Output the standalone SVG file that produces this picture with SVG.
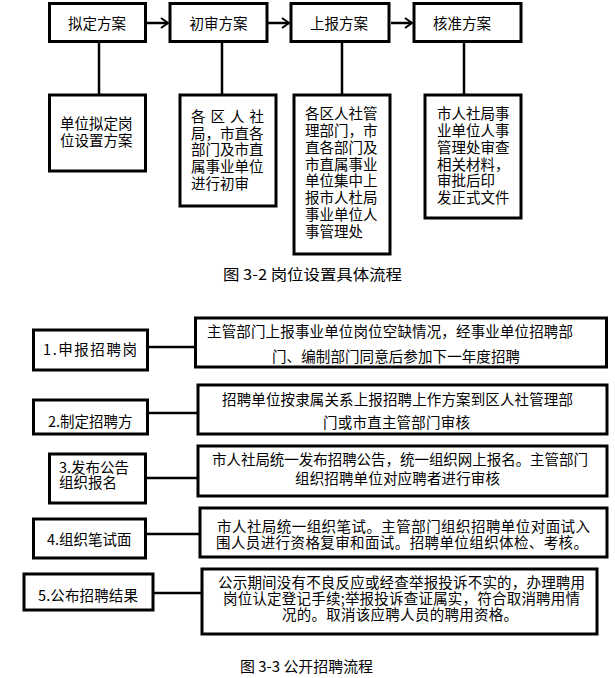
<svg xmlns="http://www.w3.org/2000/svg" width="615" height="678" viewBox="0 0 615 678">
<style>
.b{fill:#fff;stroke:#000;stroke-width:3}
.c{stroke:#000;stroke-width:2.5;fill:none}
.t{font-family:"Noto Sans CJK SC","Liberation Sans",sans-serif;font-size:14.5px;fill:#000}
.m{text-anchor:middle}
</style>
<defs>
<marker id="ah" markerWidth="12" markerHeight="12" refX="9" refY="6" orient="auto" markerUnits="userSpaceOnUse">
<path d="M2,1 L9,6 L2,11" fill="none" stroke="#000" stroke-width="2"/>
</marker>
</defs>
<rect width="615" height="678" fill="#fff"/>
<g id="connectors">
<line class="c" x1="147" y1="23" x2="168" y2="23" marker-end="url(#ah)"/>
<line class="c" x1="268" y1="23" x2="289" y2="23" marker-end="url(#ah)"/>
<line class="c" x1="391" y1="23" x2="412" y2="23" marker-end="url(#ah)"/>
<line class="c" x1="99" y1="42" x2="99" y2="94"/>
<line class="c" x1="222" y1="42" x2="222" y2="94"/>
<line class="c" x1="342" y1="42" x2="342" y2="94"/>
<line class="c" x1="464" y1="42" x2="464" y2="94"/>
<line class="c" x1="149" y1="347" x2="195" y2="347"/>
<line class="c" x1="149" y1="413" x2="197" y2="413"/>
<line class="c" x1="147" y1="478" x2="197" y2="478"/>
<line class="c" x1="147" y1="534" x2="199" y2="534"/>
<line class="c" x1="150" y1="593" x2="201" y2="593"/>
</g>
<g id="n1"><rect class="b" x="49.5" y="3.5" width="96" height="38"/><text class="t m" x="97" y="29">拟定方案</text></g>
<g id="n2"><rect class="b" x="170" y="3.5" width="97" height="38"/><text class="t m" x="218.5" y="29">初审方案</text></g>
<g id="n3"><rect class="b" x="291" y="3.5" width="98" height="38"/><text class="t m" x="339" y="29">上报方案</text></g>
<g id="n4"><rect class="b" x="414" y="3.5" width="107" height="38"/><text class="t m" x="462" y="29">核准方案</text></g>
<g id="n1b"><rect class="b" x="49.5" y="95" width="96" height="76"/>
<text class="t" x="60" y="129">单位拟定岗</text><text class="t" x="60" y="146">位设置方案</text></g>
<g id="n2b"><rect class="b" x="180" y="95" width="96" height="111"/>
<text class="t" x="191" y="122" textLength="73" lengthAdjust="spacing">各 区 人 社</text>
<text class="t" x="191" y="138.5">局，市直各</text>
<text class="t" x="191" y="155">部门及市直</text>
<text class="t" x="191" y="172">属事业单位</text>
<text class="t" x="191" y="188.5">进行初审</text></g>
<g id="n3b"><rect class="b" x="294" y="95" width="96" height="159"/>
<text class="t" x="305" y="119">各区人社管</text>
<text class="t" x="305" y="135.5">理部门，市</text>
<text class="t" x="305" y="152.5">直各部门及</text>
<text class="t" x="305" y="169.5">市直属事业</text>
<text class="t" x="305" y="186">单位集中上</text>
<text class="t" x="305" y="203">报市人杜局</text>
<text class="t" x="305" y="219.5">事业单位人</text>
<text class="t" x="305" y="236.5">事管理处</text></g>
<g id="n4b"><rect class="b" x="425" y="95" width="96" height="123"/>
<text class="t" x="437" y="119">市人社局事</text>
<text class="t" x="437" y="135.5">业单位人事</text>
<text class="t" x="437" y="152.5">管理处审查</text>
<text class="t" x="437" y="169.5">相关材料，</text>
<text class="t" x="437" y="186">审批后印</text>
<text class="t" x="437" y="203">发正式文件</text></g>
<g id="cap1"><text class="t" x="223" y="280" style="font-size:15px" textLength="179" lengthAdjust="spacingAndGlyphs">图 3-2 岗位设置具体流程</text></g>
<g id="L1"><rect class="b" x="33.5" y="330" width="114" height="40"/><text class="t" x="43" y="355" textLength="94" lengthAdjust="spacing">1.申报招聘岗</text></g>
<g id="R1"><rect class="b" x="195.5" y="318" width="411" height="49"/>
<text class="t" x="207" y="337" textLength="366" lengthAdjust="spacing">主管部门上报事业单位岗位空缺情况，经事业单位招聘部</text>
<text class="t" x="272" y="362" textLength="248" lengthAdjust="spacing">门、编制部门同意后参加下一年度招聘</text></g>
<g id="L2"><rect class="b" x="33.5" y="400" width="114" height="34"/><text class="t" x="48" y="427">2.制定招聘方</text></g>
<g id="R2"><rect class="b" x="198" y="385" width="409" height="49"/>
<text class="t" x="222" y="405" textLength="351" lengthAdjust="spacing">招聘单位按隶属关系上报招聘上作方案到区人社管理部</text>
<text class="t" x="323" y="428" textLength="147" lengthAdjust="spacing">门或市直主管部门审核</text></g>
<g id="L3"><rect class="b" x="49.5" y="454" width="96" height="49"/>
<text class="t" x="59" y="473">3.发布公告</text><text class="t" x="59" y="488">组织报名</text></g>
<g id="R3"><rect class="b" x="198" y="446" width="409" height="50"/>
<text class="t" x="212" y="465" textLength="376" lengthAdjust="spacing">市人社局统一发布招聘公告，统一组织网上报名。主管部门</text>
<text class="t" x="295" y="484" textLength="205" lengthAdjust="spacing">组织招聘单位对应聘者进行审核</text></g>
<g id="L4"><rect class="b" x="33.5" y="519" width="112" height="39"/><text class="t" x="47" y="545">4.组织笔试面</text></g>
<g id="R4"><rect class="b" x="200" y="508" width="407" height="49"/>
<text class="t" x="217" y="532" textLength="373" lengthAdjust="spacing">市人社局统一组织笔试。主管部门组织招聘单位对面试入</text>
<text class="t" x="216" y="548" textLength="372" lengthAdjust="spacing">围人员进行资格复审和面试。招聘单位组织体检、考核。</text></g>
<g id="L5"><rect class="b" x="24" y="574" width="129" height="36"/><text class="t" x="38" y="601" textLength="100" lengthAdjust="spacing">5.公布招聘结果</text></g>
<g id="R5"><rect class="b" x="202" y="569" width="395" height="65"/>
<text class="t" x="218" y="588" textLength="367" lengthAdjust="spacing">公示期间没有不良反应或经查举报投诉不实的，办理聘用</text>
<text class="t" x="223" y="604" textLength="357" lengthAdjust="spacing">岗位认定登记手续;举报投诉查证属实，符合取消聘用情</text>
<text class="t" x="282" y="620" textLength="236" lengthAdjust="spacing">况的。取消该应聘人员的聘用资格。</text></g>
<g id="cap2"><text class="t" x="240" y="672" style="font-size:15px" textLength="133" lengthAdjust="spacingAndGlyphs">图 3-3 公开招聘流程</text></g>
</svg>
